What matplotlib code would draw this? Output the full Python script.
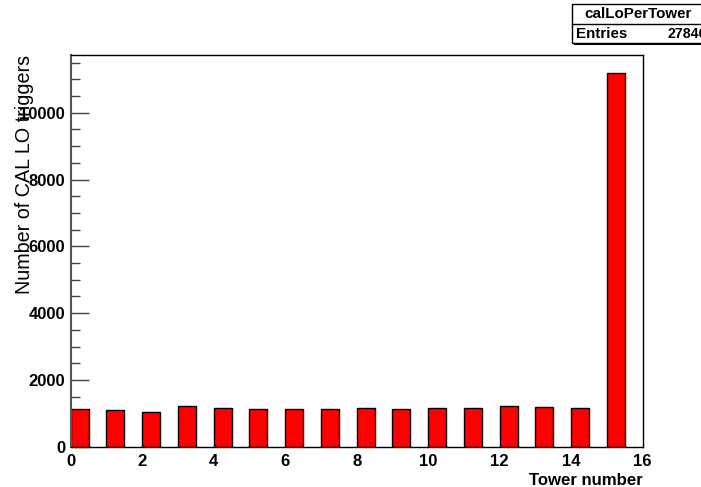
import matplotlib
matplotlib.use("Agg")
import matplotlib.pyplot as plt
from matplotlib.patches import Rectangle
from matplotlib.ticker import MultipleLocator

towers = list(range(16))
counts = [1120, 1110, 1050, 1220, 1160, 1120, 1120, 1120, 1160, 1120,
          1160, 1160, 1220, 1190, 1160, 11180]
hist_name = "calLoPerTower"
entries_text = "27846"
xlabel = "Tower number"
ylabel = "Number of CAL LO triggers"

W, H = 701, 487
fig = plt.figure(figsize=(W / 100, H / 100), dpi=100)
fig.patch.set_facecolor("white")
ax = fig.add_axes([70.7 / W, 1 - 446.7 / H, (642.7 - 70.7) / W, (446.7 - 55) / H])

ax.bar(towers, counts, width=0.5, align="edge", color="#ff0000",
       edgecolor="black", linewidth=1.0, zorder=2)

ax.set_xlim(0, 16)
ax.set_ylim(0, 11730)
ax.xaxis.set_major_locator(MultipleLocator(2))
ax.yaxis.set_major_locator(MultipleLocator(2000))
ax.yaxis.set_minor_locator(MultipleLocator(500))
ax.tick_params(axis="x", which="both", length=0, pad=5)
ax.tick_params(axis="y", which="major", direction="in", length=13, width=1.0,
               color="#444444", pad=4)
ax.tick_params(axis="y", which="minor", direction="in", length=6.5, width=1.0,
               color="#444444")
for lab in ax.get_xticklabels() + ax.get_yticklabels():
    lab.set_fontfamily("Liberation Sans")
    lab.set_fontweight("bold")
    lab.set_fontsize(12)
for s in ax.spines.values():
    s.set_linewidth(1.0)
    s.set_color("black")
ax.spines["left"].set_color("#555555")
ax.spines["left"].set_linewidth(1.5)

fig.text(643 / W, 1 - 485 / H, xlabel, ha="right", va="baseline",
         fontfamily="Liberation Sans", fontweight="bold", fontsize=12.1)
fig.text(25 / W, 1 - 55 / H, ylabel, ha="center", va="top", rotation=90,
         fontfamily="Liberation Sans", fontsize=14.2)

# stats box
bx0, by0, bx1, by1, bdiv = 571.7, 4.3, 710, 42.7, 24
fig.patches.append(Rectangle((bx0 / W + 2 / W, 1 - (by1 + 2.5) / H),
                             (bx1 - bx0) / W, (by1 - by0) / H,
                             transform=fig.transFigure, facecolor="black",
                             edgecolor="none", zorder=5))
fig.patches.append(Rectangle((bx0 / W, 1 - by1 / H), (bx1 - bx0) / W,
                             (by1 - by0) / H, transform=fig.transFigure,
                             facecolor="white", edgecolor="black",
                             linewidth=1.0, zorder=6))
fig.lines.append(plt.Line2D([bx0 / W, bx1 / W], [1 - bdiv / H, 1 - bdiv / H],
                            transform=fig.transFigure, color="black",
                            linewidth=1.0, zorder=7))
fig.text(638 / W, 1 - 14.3 / H, hist_name, ha="center", va="center",
         fontfamily="Liberation Sans", fontweight="bold", fontsize=10.9, zorder=8)
fig.text(576 / W, 1 - 33.5 / H, "Entries", ha="left", va="center",
         fontfamily="Liberation Sans", fontweight="bold", fontsize=10.9, zorder=8)
fig.text(667 / W, 1 - 33.5 / H, entries_text, ha="left", va="center",
         fontfamily="Liberation Sans", fontweight="bold", fontsize=10.2, zorder=8)

fig.savefig("out.png", dpi=100, facecolor="white")
